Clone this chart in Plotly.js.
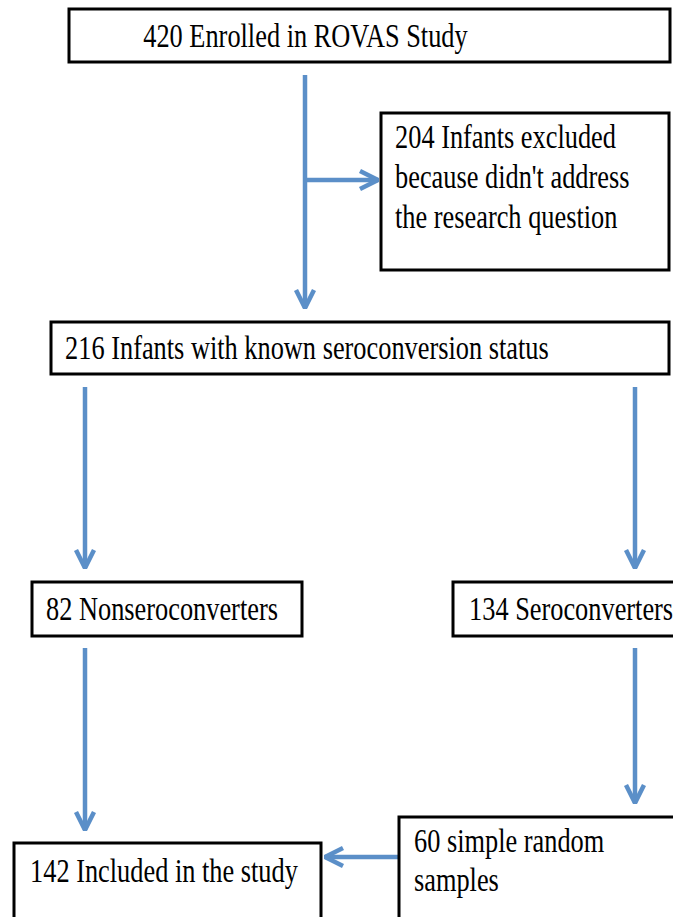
<!DOCTYPE html>
<html>
<head>
<meta charset="utf-8">
<script src="https://cdn.plot.ly/plotly-3.0.1.min.js"></script>
<style>
  html, body { margin: 0; padding: 0; background: #ffffff; }
  #chart { width: 673px; height: 917px; }
</style>
</head>
<body>
<div id="chart"></div>
<script>
// ---- Data: counts and descriptions of each flowchart stage ----
var stageCounts = [420, 204, 216, 82, 134, 142, 60];
var stageTexts = [
  "Enrolled in ROVAS Study",
  "Infants excluded<br>because didn't address<br>the research question",
  "Infants with known seroconversion status",
  "Nonseroconverters",
  "Seroconverters",
  "Included in the study",
  "simple random<br>samples"
];
// edges: [from stage index, to stage index]
var edgeFrom = [0, 0, 2, 2, 3, 4, 6];
var edgeTo   = [2, 1, 3, 4, 5, 6, 5];

// ---- Layout geometry (pixel coordinates on a 673 x 917 canvas) ----
var boxGeom = [
  {x0: 69,  x1: 670, y0: 9,   y1: 62,  tx: 305, anchor: "center", base: 46, lh: 40},
  {x0: 381, x1: 669, y0: 113, y1: 270, tx: 393, anchor: "left",   base: 147, lh: 40},
  {x0: 51,  x1: 669, y0: 322, y1: 374, tx: 63,  anchor: "left",   base: 358, lh: 40},
  {x0: 32,  x1: 302, y0: 582, y1: 636, tx: 44,  anchor: "left",   base: 619, lh: 40},
  {x0: 453, x1: 700, y0: 582, y1: 636, tx: 467, anchor: "left",   base: 619, lh: 40},
  {x0: 14,  x1: 321, y0: 843, y1: 940, tx: 28,  anchor: "left",   base: 881, lh: 40},
  {x0: 399, x1: 700, y0: 817, y1: 940, tx: 412, anchor: "left",   base: 851, lh: 39}
];
var edgeGeom = [
  {x0: 305, y0: 75,  x1: 305, y1: 308},
  {x0: 305, y0: 180, x1: 378, y1: 180},
  {x0: 85,  y0: 387, x1: 85,  y1: 568},
  {x0: 635, y0: 387, x1: 635, y1: 568},
  {x0: 85,  y0: 648, x1: 85,  y1: 830},
  {x0: 635, y0: 648, x1: 635, y1: 803},
  {x0: 399, y0: 857, x1: 325, y1: 857}
];

var W = 673, H = 917;
var FONT = "Liberation Serif, Times New Roman, serif";
var FS = 34;
var SQUEEZE = 0.775;   // condensed look of the original typeface
var ARROW = "#5b8fc8";

// Boxes as shapes
var shapes = boxGeom.map(function (b) {
  return {
    type: "rect", xref: "x", yref: "y",
    x0: b.x0, x1: b.x1, y0: b.y0, y1: b.y1,
    line: {color: "#000000", width: 3},
    fillcolor: "rgba(0,0,0,0)", layer: "above"
  };
});

// Texts as annotations, one per line
var annotations = [];
stageCounts.forEach(function (c, i) {
  var lines = (c + " " + stageTexts[i]).split("<br>");
  var g = boxGeom[i];
  lines.forEach(function (ln, k) {
    annotations.push({
      xref: "x", yref: "y",
      x: g.tx, y: g.base + k * g.lh - 10.5,
      xanchor: g.anchor, yanchor: "middle",
      text: ln, showarrow: false,
      font: {family: FONT, size: FS, color: "#000000"}
    });
  });
});

// Arrows as line traces (shaft + chevron head)
var traces = edgeGeom.map(function (e, i) {
  var dx = e.x1 - e.x0, dy = e.y1 - e.y0;
  var len = Math.sqrt(dx * dx + dy * dy);
  var ux = dx / len, uy = dy / len;
  var back = 18, half = 9;
  var bx = e.x1 - ux * back, by = e.y1 - uy * back;
  var px = -uy * half, py = ux * half;
  return {
    type: "scatter", mode: "lines",
    x: [e.x0, e.x1, null, bx + px, e.x1, bx - px],
    y: [e.y0, e.y1, null, by + py, e.y1, by - py],
    line: {color: ARROW, width: 4.5},
    hoverinfo: "skip", showlegend: false,
    name: "edge " + edgeFrom[i] + "->" + edgeTo[i]
  };
});

var layout = {
  width: W, height: H,
  margin: {l: 0, r: 0, t: 0, b: 0, pad: 0},
  paper_bgcolor: "#ffffff", plot_bgcolor: "#ffffff",
  xaxis: {range: [0, W], visible: false, fixedrange: true},
  yaxis: {range: [H, 0], visible: false, fixedrange: true},
  shapes: shapes,
  annotations: annotations,
  showlegend: false
};

Plotly.newPlot("chart", traces, layout, {displayModeBar: false, staticPlot: true}).then(function (gd) {
  var groups = gd.querySelectorAll("g.annotation");
  groups.forEach(function (grp) {
    var idx = +grp.getAttribute("data-index");
    var a = annotations[idx];
    var t = grp.querySelector("text.annotation-text");
    if (!t || !a) return;
    t.style.transformBox = "fill-box";
    t.style.transformOrigin = (a.xanchor === "left" ? "left" : "center") + " center";
    t.style.transform = "scaleX(" + SQUEEZE + ")";
  });
});
</script>
</body>
</html>
